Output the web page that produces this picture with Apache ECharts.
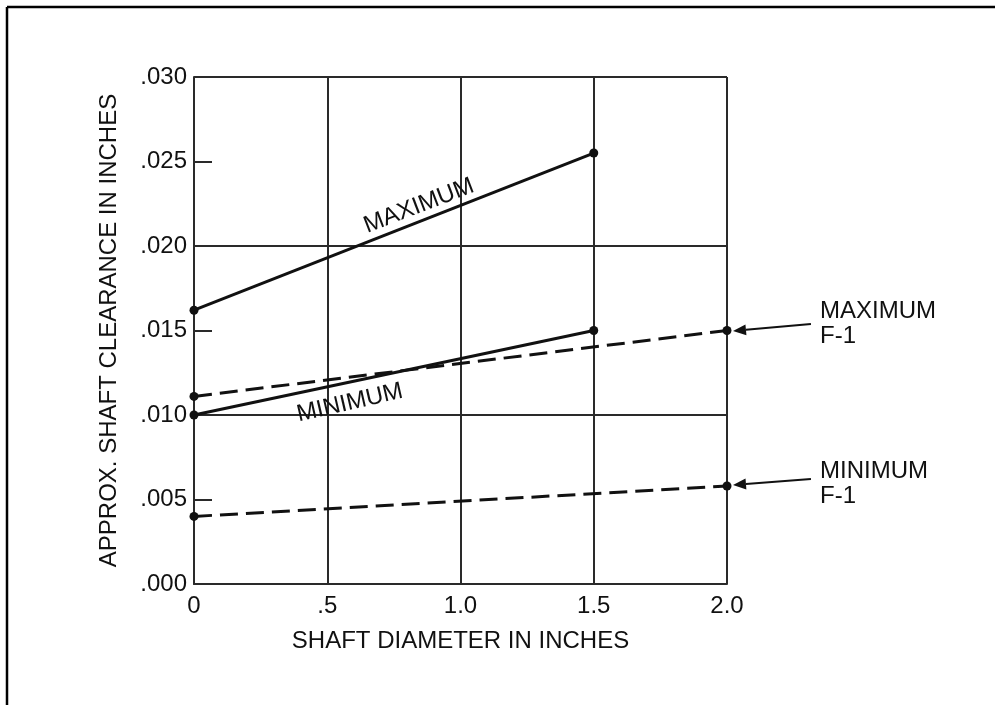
<!DOCTYPE html>
<html>
<head>
<meta charset="utf-8">
<script src="https://cdn.jsdelivr.net/npm/echarts@6/dist/echarts.min.js"></script>
<style>
html,body{margin:0;padding:0;background:#fff;}
#chart{width:995px;height:705px;}
</style>
</head>
<body>
<div id="chart"></div>
<script>
// ---- data ----
var xTickValues = [0, 0.5, 1.0, 1.5, 2.0];
var xTickLabels = ['0', '.5', '1.0', '1.5', '2.0'];
var yTickValues = [0, 0.005, 0.010, 0.015, 0.020, 0.025, 0.030];
var yTickLabels = ['.000', '.005', '.010', '.015', '.020', '.025', '.030'];

var maxSolidX = [0, 1.5];
var maxSolidY = [0.0162, 0.0255];
var minSolidX = [0, 1.5];
var minSolidY = [0.0100, 0.0150];
var maxF1X = [0, 2.0];
var maxF1Y = [0.0111, 0.0150];
var minF1X = [0, 2.0];
var minF1Y = [0.0040, 0.0058];

var xTitle = 'SHAFT DIAMETER IN INCHES';
var yTitle = 'APPROX. SHAFT CLEARANCE IN INCHES';

// in-plot line labels (centre position in data units, rotation in degrees)
var lineLabelX = [0.844, 0.585];
var lineLabelY = [0.02237, 0.01071];
var lineLabelText = ['MAXIMUM', 'MINIMUM'];
var lineLabelRot = [21, 13];

// callouts: text anchor (left edge, vertical centre), arrow start, arrow tip
var calloutText = ['MAXIMUM\nF-1', 'MINIMUM\nF-1'];
var calloutTextX = [2.349, 2.349];
var calloutTextY = [0.01541, 0.00592];
var arrowFromX = [2.315, 2.315];
var arrowFromY = [0.01538, 0.00621];
var arrowToX = [2.0225, 2.0225];
var arrowToY = [0.01497, 0.00586];

function pairs(xs, ys) { return xs.map(function (x, i) { return [x, ys[i]]; }); }
function lookup(vals, labels, v) {
  for (var i = 0; i < vals.length; i++) if (Math.abs(vals[i] - v) < 1e-9) return labels[i];
  return '';
}

var FONT = 'Liberation Sans';
var FS = 24;
var INK = '#111';
var GRID = '#2a2a2a';

function dataLine(xs, ys, dashed) {
  return {
    type: 'line', data: pairs(xs, ys),
    symbol: 'circle', symbolSize: 9, showSymbol: true,
    itemStyle: { color: INK },
    lineStyle: { color: INK, width: 3, type: dashed ? [18, 8] : 'solid' },
    clip: false, silent: true, z: 5
  };
}

var series = [
  dataLine(maxSolidX, maxSolidY, false),
  dataLine(minSolidX, minSolidY, false),
  dataLine(maxF1X, maxF1Y, true),
  dataLine(minF1X, minF1Y, true),
  {
    // rotated labels along the solid lines
    type: 'custom', clip: false, silent: true, z: 6,
    data: lineLabelText.map(function (t, i) { return [lineLabelX[i], lineLabelY[i], i]; }),
    renderItem: function (params, api) {
      var i = api.value(2);
      var p = api.coord([api.value(0), api.value(1)]);
      return {
        type: 'text', x: p[0], y: p[1], rotation: lineLabelRot[i] * Math.PI / 180,
        style: { text: lineLabelText[i], fill: INK, font: FS + 'px "' + FONT + '"',
          align: 'center', verticalAlign: 'middle' }
      };
    }
  },
  {
    // callout texts with arrows
    type: 'custom', clip: false, silent: true, z: 6,
    data: calloutText.map(function (t, i) { return [calloutTextX[i], calloutTextY[i], i]; }),
    renderItem: function (params, api) {
      var i = api.value(2);
      var p = api.coord([api.value(0), api.value(1)]);
      var a = api.coord([arrowFromX[i], arrowFromY[i]]);
      var b = api.coord([arrowToX[i], arrowToY[i]]);
      var dx = b[0] - a[0], dy = b[1] - a[1];
      var len = Math.sqrt(dx * dx + dy * dy);
      var ux = dx / len, uy = dy / len;
      var hl = 13, hw = 5.5;
      var bx = b[0] - ux * hl, by = b[1] - uy * hl;
      return {
        type: 'group',
        children: [
          { type: 'line', shape: { x1: a[0], y1: a[1], x2: bx, y2: by },
            style: { stroke: INK, lineWidth: 2 } },
          { type: 'polygon', shape: { points: [[b[0], b[1]], [bx - uy * hw, by + ux * hw], [bx + uy * hw, by - ux * hw]] },
            style: { fill: INK } },
          { type: 'text', x: p[0], y: p[1],
            style: { text: calloutText[i], fill: INK, font: FS + 'px "' + FONT + '"',
              align: 'left', verticalAlign: 'middle', lineHeight: 25 } }
        ]
      };
    }
  }
];

var chart = echarts.init(document.getElementById('chart'), null, { renderer: 'canvas' });
chart.setOption({
  backgroundColor: '#fff',
  animation: false,
  grid: { left: 194, top: 77, width: 533, height: 507, containLabel: false },
  xAxis: {
    type: 'value', min: 0, max: 2, interval: 0.5,
    name: xTitle, nameLocation: 'middle', nameGap: 45,
    nameTextStyle: { color: INK, fontFamily: FONT, fontSize: FS },
    axisLine: { show: true, lineStyle: { color: GRID, width: 2 } },
    axisTick: { show: false },
    axisLabel: { margin: 10, color: INK, fontFamily: FONT, fontSize: FS,
      formatter: function (v) { return lookup(xTickValues, xTickLabels, v); } },
    splitLine: { show: true, lineStyle: { color: GRID, width: 2 } }
  },
  yAxis: [
    {
      type: 'value', min: 0, max: 0.03, interval: 0.005,
      name: yTitle, nameLocation: 'middle', nameGap: 73,
      nameTextStyle: { color: INK, fontFamily: FONT, fontSize: FS },
      axisLine: { show: true, lineStyle: { color: GRID, width: 2 } },
      axisTick: { show: true, inside: true, length: 18, lineStyle: { color: GRID, width: 2 } },
      axisLabel: { margin: 7, color: INK, fontFamily: FONT, fontSize: FS,
        formatter: function (v) { return lookup(yTickValues, yTickLabels, v); } },
      splitLine: { show: false }
    },
    {
      type: 'value', min: 0, max: 0.03, interval: 0.01, position: 'left',
      axisLine: { show: false }, axisTick: { show: false }, axisLabel: { show: false },
      splitLine: { show: true, lineStyle: { color: GRID, width: 2 } }
    }
  ],
  graphic: [
    { type: 'line', shape: { x1: 7, y1: 7, x2: 995, y2: 7 }, style: { stroke: '#000', lineWidth: 2.5 }, silent: true },
    { type: 'line', shape: { x1: 7, y1: 7, x2: 7, y2: 705 }, style: { stroke: '#000', lineWidth: 2.5 }, silent: true }
  ],
  series: series
});
</script>
</body>
</html>
